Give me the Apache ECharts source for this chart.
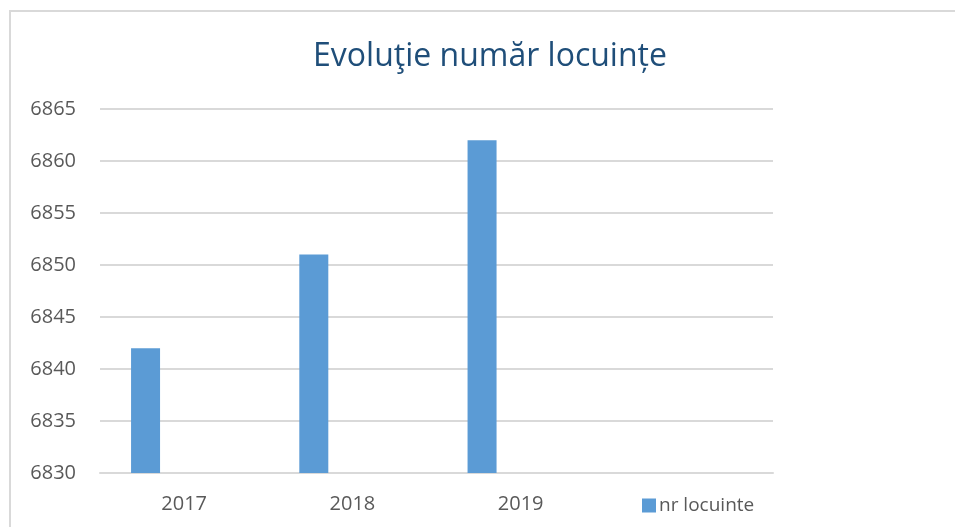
<!DOCTYPE html>
<html>
<head>
<meta charset="utf-8">
<script src="https://cdn.jsdelivr.net/npm/echarts@6/dist/echarts.min.js"></script>
<style>
  html, body { margin: 0; padding: 0; background: #fff; }
  #frame {
    position: absolute; left: 9px; top: 10px;
    width: 1000px; height: 600px;
    border: 2px solid #d9d9d9; box-sizing: border-box;
  }
  #chart { position: absolute; left: 0; top: 0; width: 955px; height: 527px; }
</style>
</head>
<body>
<div id="frame"></div>
<div id="chart"></div>
<script>
// date
const years = ['2017', '2018', '2019', '']
const locuinte = [6842, 6851, 6862, null]
const yTicks = [6830, 6835, 6840, 6845, 6850, 6855, 6860, 6865]

const font = '"Open Sans", sans-serif'
var myChart = echarts.init(document.getElementById('chart'))
myChart.setOption({
  animation: false,
  title: {
    text: 'Evoluţie număr locuințe',
    left: 485,
    top: 36,
    textAlign: 'center',
    textStyle: { color: '#1F4E79', fontFamily: font, fontSize: 32, fontWeight: 'normal' }
  },
  legend: {
    data: ['nr locuinte'],
    left: 637,
    top: 491,
    icon: 'rect',
    itemWidth: 14,
    itemHeight: 14,
    itemGap: 6,
    textStyle: { color: '#595959', fontFamily: font, fontSize: 19, padding: [0, 0, 0, -2] }
  },
  grid: { left: 100, right: 182, top: 109, bottom: 54 },
  xAxis: {
    type: 'category',
    data: years,
    axisLine: { lineStyle: { color: '#d9d9d9', width: 2 } },
    axisTick: { show: false },
    axisLabel: { color: '#595959', fontFamily: font, fontSize: 20, margin: 21 }
  },
  yAxis: {
    type: 'value',
    min: yTicks[0],
    max: yTicks[yTicks.length - 1],
    interval: 5,
    axisLine: { show: false },
    axisTick: { show: false },
    splitLine: { lineStyle: { color: '#d9d9d9', width: 2 } },
    axisLabel: { color: '#595959', fontFamily: font, fontSize: 20, margin: 24, formatter: v => String(v) }
  },
  series: [
    { name: 'nr locuinte', type: 'bar', data: locuinte, barWidth: 29, barGap: '33%', itemStyle: { color: '#5B9BD5' } },
    { name: 'gol1', type: 'bar', data: [null, null, null, null], barWidth: 29, barGap: '33%' },
    { name: 'gol2', type: 'bar', data: [null, null, null, null], barWidth: 29, barGap: '33%' }
  ]
})
window.addEventListener('resize', () => {
  myChart.resize()
})
</script>
</body>
</html>
